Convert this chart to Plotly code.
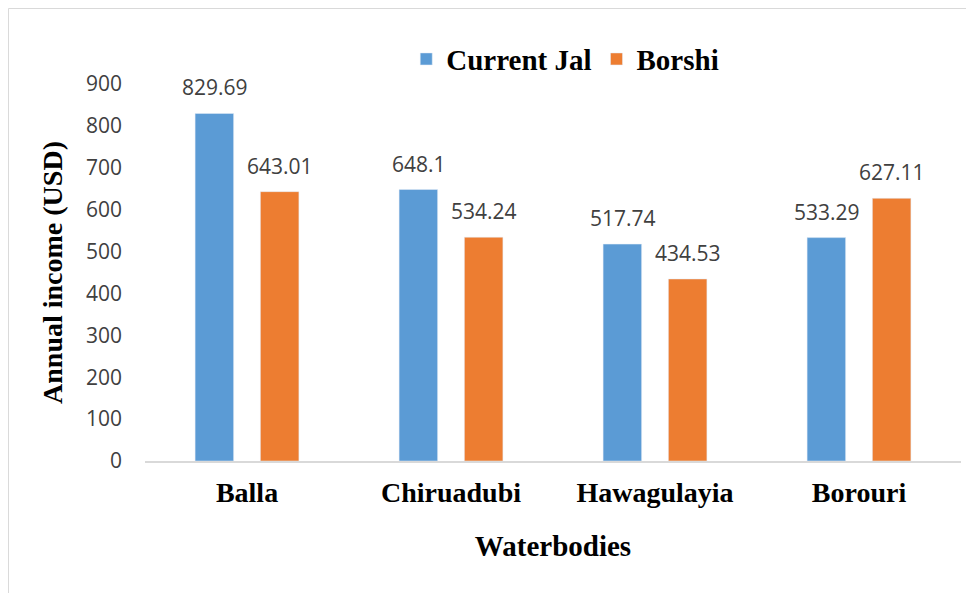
import plotly.graph_objects as go

waterbodies = ['Balla', 'Chiruadubi', 'Hawagulayia', 'Borouri']
current_jal = [829.69, 648.1, 517.74, 533.29]
borshi = [643.01, 534.24, 434.53, 627.11]
current_jal_txt = ['829.69', '648.1', '517.74', '533.29']
borshi_txt = ['643.01', '534.24', '434.53', '627.11']

blue = '#5B9BD5'
orange = '#ED7D31'
num_font = dict(family='Open Sans', size=21, color='#404040')
bold_font = 'Liberation Serif'

fig = go.Figure()
fig.add_trace(go.Bar(x=waterbodies, y=current_jal, name='<b>Current Jal</b>', marker_color=blue))
fig.add_trace(go.Bar(x=waterbodies, y=borshi, name='<b>Borshi</b>', marker_color=orange))

# value labels above the bars
for vals, txt, shift in [(current_jal, current_jal_txt, -32.5), (borshi, borshi_txt, 32.5)]:
    for cat, v, t in zip(waterbodies, vals, txt):
        fig.add_annotation(x=cat, y=v, text=t, showarrow=False, xshift=shift, yshift=10,
                           yanchor='bottom', font=num_font)

# light frame round the chart
fig.add_shape(type='line', xref='paper', yref='paper', x0=-0.1673, x1=-0.1673, y0=1.2003, y1=-0.4,
              line=dict(color='#D9D9D9', width=1))
fig.add_shape(type='line', xref='paper', yref='paper', x0=-0.1673, x1=1.05, y0=1.2003, y1=1.2003,
              line=dict(color='#D9D9D9', width=1))

fig.update_layout(
    width=974, height=593,
    margin=dict(l=137, r=21, t=76, b=140, autoexpand=False),
    plot_bgcolor='white', paper_bgcolor='white',
    barmode='group', bargap=0.36, bargroupgap=0.41,
    showlegend=True,
    legend=dict(orientation='h', x=0.515, xanchor='center', y=1.066, yanchor='middle',
                font=dict(family=bold_font, size=29, color='black'),
                itemwidth=30, traceorder='normal'),
    xaxis=dict(title=dict(text='<b>Waterbodies</b>', font=dict(family=bold_font, size=29, color='black'),
                          standoff=29),
               tickfont=dict(family=bold_font, size=28, color='black'),
               tickprefix='<b>', ticksuffix='</b>', automargin=False,
               showline=True, linecolor='#D9D9D9', linewidth=2, ticks='', ticklabelstandoff=5),
    yaxis=dict(title=dict(text='<b>Annual income (USD)</b>', font=dict(family=bold_font, size=28, color='black'),
                          standoff=15),
               range=[0, 900], dtick=100, tickfont=num_font, automargin=False,
               showgrid=False, zeroline=False, showline=False, ticks='', ticklabelstandoff=22),
)

fig.write_html('out.html')
